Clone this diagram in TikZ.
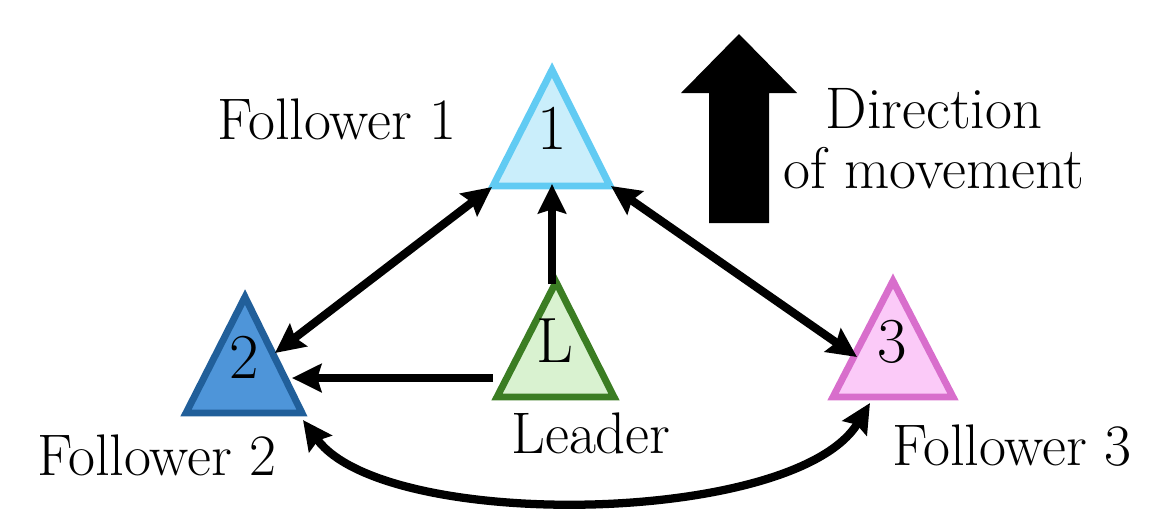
\documentclass[tikz,border=0pt]{standalone}
\usetikzlibrary{arrows.meta}
\definecolor{oneF}{HTML}{CAEEFB}
\definecolor{oneD}{HTML}{61CBF3}
\definecolor{twoF}{HTML}{4E95D9}
\definecolor{twoD}{HTML}{215F9A}
\definecolor{ldF}{HTML}{D9F2D0}
\definecolor{ldD}{HTML}{3B7D23}
\definecolor{thrF}{HTML}{FBCAF8}
\definecolor{thrD}{HTML}{D86ECC}
\tikzset{
  tri/.style={line width=5.2pt, line join=miter},
  lab/.style={anchor=base, inner sep=0pt, font=\fontsize{44}{44.5}\selectfont},
  num/.style={anchor=base, inner sep=0pt, font=\fontsize{48}{50}\selectfont},
  link/.style={line width=6.2pt, -{Stealth[length=22pt,width=21pt,inset=3pt]}},
  dlink/.style={line width=6.2pt, {Stealth[length=22pt,width=21pt,inset=3pt]}-{Stealth[length=22pt,width=21pt,inset=3pt]}}
}
\begin{document}
\begin{tikzpicture}[x=0.75pt,y=-0.75pt]
\useasboundingbox (0,0) rectangle (1158,512);
% triangles
\draw[tri, draw=oneD, fill=oneF] (552,70) -- (610,186) -- (493,186) -- cycle;
\draw[tri, draw=twoD, fill=twoF] (245,297) -- (302,413) -- (186,413) -- cycle;
\draw[tri, draw=ldD, fill=ldF] (556,282) -- (614,397) -- (497,397) -- cycle;
\draw[tri, draw=thrD, fill=thrF] (893,281) -- (953,397) -- (833,397) -- cycle;
% triangle labels
\node[num] (t1) at (552,149) {1};
\node[num] (t2) at (244,378) {2};
\node[num] (tL) at (555,362) {L};
\node[num] (t3) at (892,362) {3};
% connector end points
\coordinate (a12) at (492,187);
\coordinate (b12) at (275,353);
\coordinate (aL1) at (552,284);
\coordinate (bL1) at (552,184);
\coordinate (a13) at (611,186);
\coordinate (b13) at (857,357);
\coordinate (aL2) at (493,378);
\coordinate (bL2) at (292,378);
\coordinate (a23) at (303,420);
\coordinate (b23) at (870,403);
% connectors
\draw[dlink] (a12) -- (b12);
\draw[link] (aL1) -- (bL1);
\draw[dlink] (a13) -- (b13);
\draw[link] (aL2) -- (bL2);
\draw[dlink] (a23) .. controls (385,532) and (795,526) .. (b23);
% direction arrow
\fill[black] (739,34) -- (797,93) -- (769,93) -- (769,223) -- (709,223) -- (709,93) -- (681,93) -- cycle;
% texts
\node[lab] (f1) at (337,139) {Follower 1};
\node[lab] (f2) at (157,475) {Follower 2};
\node[lab] (f3) at (1012,465) {Follower 3};
\node[lab] (ld) at (591,453) {Leader};
\node[lab, align=center, anchor=base] (dir) at (934,188) {Direction\\of movement};
\end{tikzpicture}
\end{document}
